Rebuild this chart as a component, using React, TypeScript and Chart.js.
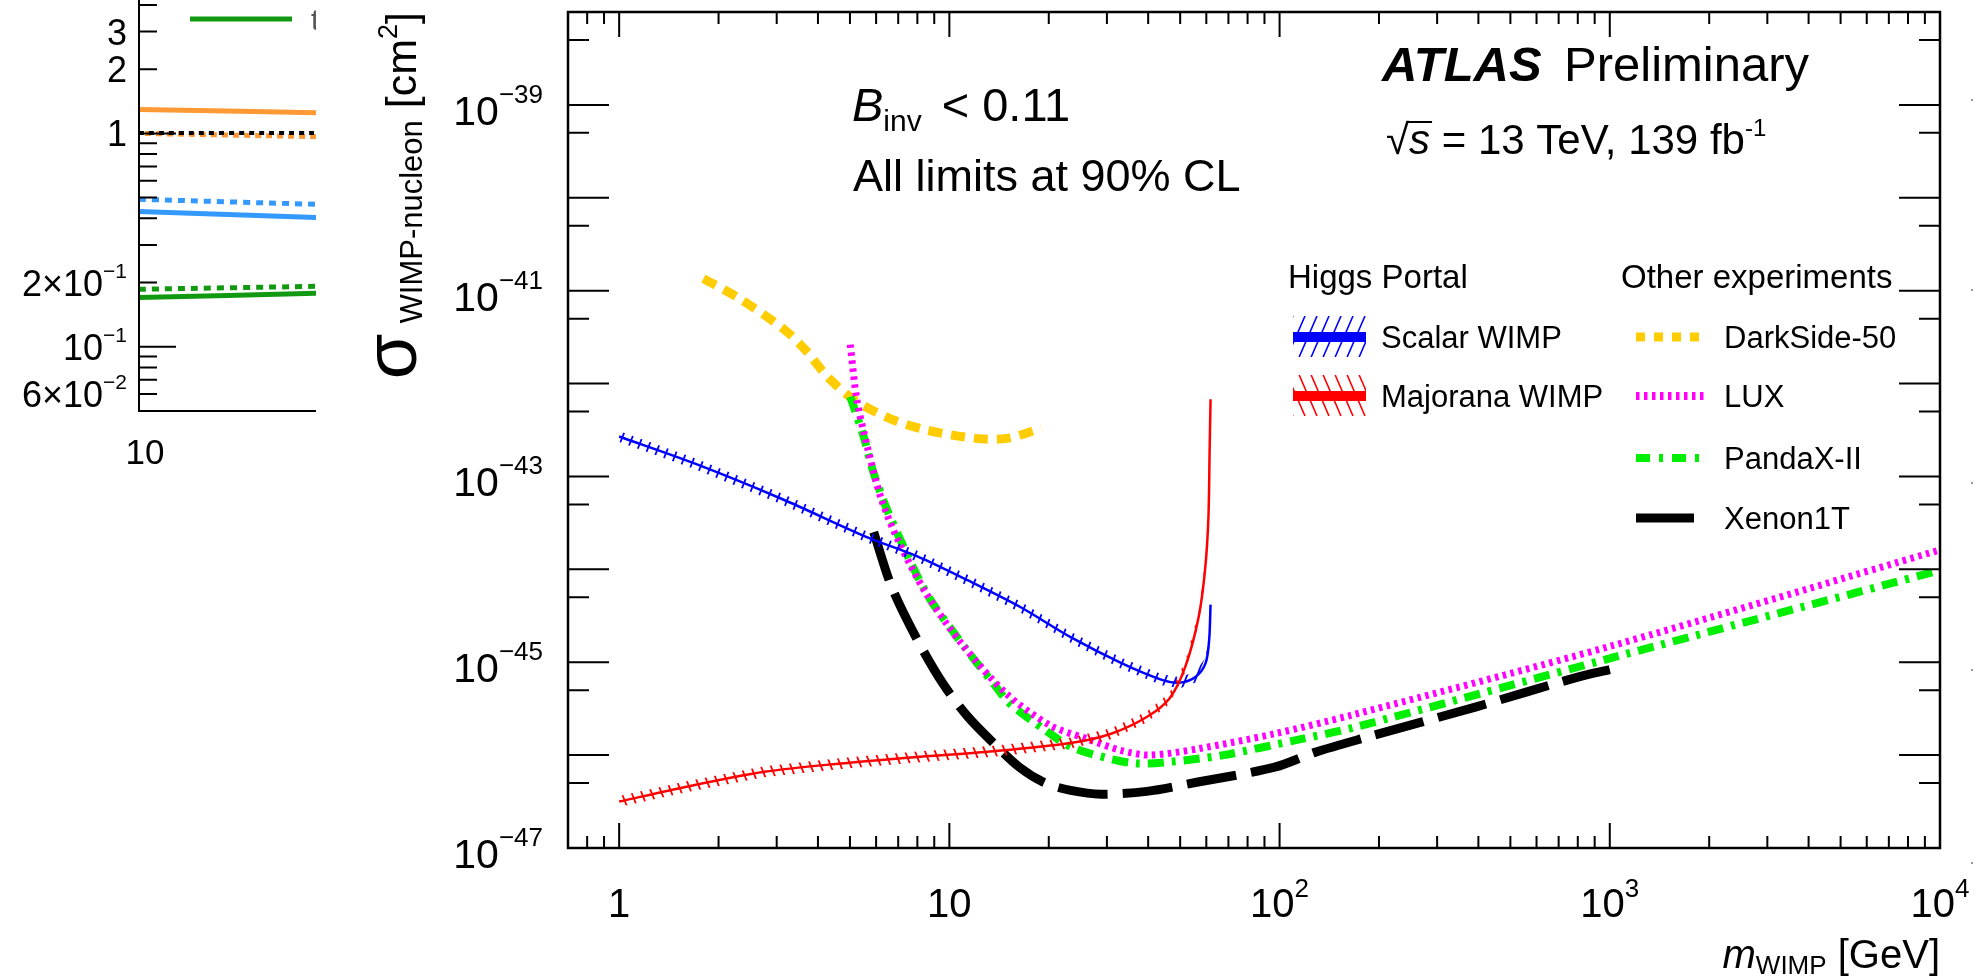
import React, { useEffect, useRef } from "react";
import { Chart, registerables } from "chart.js";

Chart.register(...registerables);

const FONT = "'Liberation Sans', Arial, Helvetica, sans-serif";
const f = (size: number, style = "") => `${style} ${size}px ${FONT}`.trim();

// ---------------- main panel data ----------------
const X_MIN = 0.7;
const X_MAX = 1e4;
const Y_MIN = 1e-47;
const Y_MAX = 1e-38;

const scalarMass = [1.0, 1.69, 3.1, 5.6, 8.0, 11.4, 16.3, 23.3, 33.2, 44, 50, 55.6, 59.7, 61.2, 61.8];
const scalarXsec = [2.69e-43, 1.38e-43, 5.75e-44, 2.24e-44, 1.38e-44, 7.59e-45, 3.98e-45, 1.86e-45, 9.77e-46, 6.46e-46, 6.03e-46, 6.92e-46, 9.77e-46, 1.74e-45, 4.17e-45];

const majoranaMass = [1.0, 1.6, 2.75, 4.7, 8.0, 13.6, 23.3, 30.9, 39.6, 46.4, 51.8, 56.9, 59.6, 60.9, 61.4, 61.8];
const majoranaXsec = [3.16e-47, 4.57e-47, 6.61e-47, 8.13e-47, 9.55e-47, 1.1e-46, 1.35e-46, 1.7e-46, 2.57e-46, 4.07e-46, 8.91e-46, 3.09e-45, 1.07e-44, 3.72e-44, 1.91e-43, 6.76e-43];

const darksideMass = [1.8, 2.3, 3.14, 3.67, 4.29, 5.17, 6.64, 8.51, 12.0, 14.9, 19.0];
const darksideXsec = [1.35e-41, 8.32e-42, 3.89e-42, 2.29e-42, 1.17e-42, 6.61e-43, 4.17e-43, 3.16e-43, 2.57e-43, 2.57e-43, 3.31e-43];

const luxMass = [5.01, 5.25, 5.68, 6.23, 7.06, 8.51, 10.9, 14.9, 20.2, 25.9, 33.2, 40.4, 56.6, 96.6, 165, 1000, 10000];
const luxXsec = [2.63e-42, 6.61e-43, 1.91e-43, 5.62e-44, 1.91e-44, 5.5e-45, 1.58e-45, 4.57e-46, 2.09e-46, 1.51e-46, 1.12e-46, 1.0e-46, 1.17e-46, 1.7e-46, 2.69e-46, 1.48e-45, 1.62e-44];

const pandaxMass = [5.01, 5.5, 5.86, 6.43, 7.75, 8.77, 11.3, 13.6, 15.2, 19.5, 23.3, 29.9, 36.9, 47.3, 67.6, 115, 165, 1000, 10000];
const pandaxXsec = [7.24e-43, 2.69e-43, 1.17e-43, 4.68e-44, 1.07e-44, 4.68e-45, 1.35e-45, 5.89e-46, 3.63e-46, 1.86e-46, 1.23e-46, 9.33e-47, 8.13e-47, 8.51e-47, 1.0e-46, 1.48e-46, 1.95e-46, 1.1e-45, 9.77e-45];

const xenonMass = [5.9, 6.69, 8.0, 9.56, 11.4, 13.6, 16.3, 19.5, 23.3, 28.8, 39.6, 56.6, 96.6, 128, 183, 394, 800, 1000];
const xenonXsec = [2.51e-44, 6.46e-45, 1.74e-45, 5.89e-46, 2.57e-46, 1.35e-46, 7.41e-47, 5.01e-47, 4.17e-47, 3.8e-47, 4.07e-47, 5.13e-47, 7.41e-47, 1.07e-46, 1.55e-46, 3.31e-46, 6.92e-46, 8.32e-46];

const xTickValues = [1, 10, 100, 1000, 10000];
const xTickBase = ["1", "10", "10", "10", "10"];
const xTickExp = ["", "", "2", "3", "4"];
const yTickValues = [1e-39, 1e-41, 1e-43, 1e-45, 1e-47];
const yTickExp = ["\u221239", "\u221241", "\u221243", "\u221245", "\u221247"];

// ---------------- left (cut-off) panel data ----------------
const leftMass = [10, 20];
const leftOrangeSolid = [1.295, 1.25];
const leftOrangeDotted = [1.0, 0.965];
const leftBlackDotted = [1.005, 1.005];
const leftBlueDotted = [0.491, 0.465];
const leftBlueSolid = [0.43, 0.403];
const leftGreenDotted = [0.186, 0.192];
const leftGreenSolid = [0.17, 0.178];
const leftTickValues = [3, 2, 1, 0.2, 0.1, 0.06];
const leftTickBase = ["3", "2", "1", "2\u00d710", "10", "6\u00d710"];
const leftTickExp = ["", "", "", "\u22121", "\u22121", "\u22122"];

const pts = (xs: number[], ys: number[]) => xs.map((x, i) => ({ x, y: ys[i] }));

type Part = { t: string; f: string; dy?: number; dx?: number };

function drawParts(ctx: CanvasRenderingContext2D, parts: Part[], x: number, y: number, align: string) {
  let w = 0;
  for (const p of parts) {
    ctx.font = p.f;
    w += ctx.measureText(p.t).width + (p.dx || 0);
  }
  let cx = align === "left" ? x : align === "center" ? x - w / 2 : x - w;
  ctx.textAlign = "left";
  ctx.textBaseline = "alphabetic";
  for (const p of parts) {
    ctx.font = p.f;
    cx += p.dx || 0;
    ctx.fillText(p.t, cx, y + (p.dy || 0));
    cx += ctx.measureText(p.t).width;
  }
  return w;
}

function hatchBand(ctx: CanvasRenderingContext2D, p: { x: number; y: number }[], half: number, spacing: number, dir: number, color: string, area: any) {
  if (p.length < 2) return;
  ctx.save();
  ctx.beginPath();
  ctx.rect(area.left, area.top, area.right - area.left, area.bottom - area.top);
  ctx.clip();
  ctx.beginPath();
  p.forEach((q, i) => (i ? ctx.lineTo(q.x, q.y - half) : ctx.moveTo(q.x, q.y - half)));
  for (let i = p.length - 1; i >= 0; i--) ctx.lineTo(p[i].x, p[i].y + half);
  ctx.closePath();
  ctx.clip();
  const xs = p.map((q) => q.x);
  const ys = p.map((q) => q.y);
  const x0 = Math.min(...xs) - 5;
  const x1 = Math.max(...xs) + 5;
  const y0 = Math.min(...ys) - half - 5;
  const y1 = Math.max(...ys) + half + 5;
  const k = 2.5;
  const H = y1 - y0;
  ctx.strokeStyle = color;
  ctx.lineWidth = 1.8;
  ctx.beginPath();
  const start = Math.floor((x0 - H / k) / spacing) * spacing;
  for (let s = start; s <= x1 + H / k; s += spacing) {
    if (dir > 0) {
      ctx.moveTo(s, y1);
      ctx.lineTo(s + H / k, y0);
    } else {
      ctx.moveTo(s, y0);
      ctx.lineTo(s + H / k, y1);
    }
  }
  ctx.stroke();
  ctx.restore();
}

function hatchRect(ctx: CanvasRenderingContext2D, x0: number, y0: number, w: number, h: number, dir: number, spacing: number, color: string) {
  ctx.save();
  ctx.beginPath();
  ctx.rect(x0, y0, w, h);
  ctx.clip();
  ctx.strokeStyle = color;
  ctx.lineWidth = 1.6;
  ctx.beginPath();
  const k = 2.3;
  for (let s = x0 - h / k - spacing; s <= x0 + w + spacing; s += spacing) {
    if (dir > 0) {
      ctx.moveTo(s, y0 + h);
      ctx.lineTo(s + h / k, y0);
    } else {
      ctx.moveTo(s, y0);
      ctx.lineTo(s + h / k, y0 + h);
    }
  }
  ctx.stroke();
  ctx.restore();
}

function sampleLine(ctx: CanvasRenderingContext2D, x0: number, x1: number, y: number, color: string, width: number, dash: number[]) {
  ctx.save();
  ctx.strokeStyle = color;
  ctx.lineWidth = width;
  ctx.lineCap = "butt";
  ctx.setLineDash(dash);
  ctx.beginPath();
  ctx.moveTo(x0, y);
  ctx.lineTo(x1, y);
  ctx.stroke();
  ctx.restore();
}

const mainDecor = {
  id: "mainDecor",
  afterDatasetsDraw(chart: any) {
    const { ctx, chartArea: a, scales } = chart;
    const x = scales.x;
    const y = scales.y;
    chart.data.datasets.forEach((ds: any, i: number) => {
      if (!ds.hatchDir) return;
      const meta = chart.getDatasetMeta(i);
      const p = meta.data.map((e: any) => ({ x: e.x, y: e.y }));
      hatchBand(ctx, p, 5.5, 10, ds.hatchDir, ds.borderColor, a);
    });
    ctx.save();
    ctx.strokeStyle = "#000";
    ctx.lineWidth = 2;
    ctx.beginPath();
    for (let d = -1; d <= 4; d++) {
      for (let m = 1; m <= 9; m++) {
        const v = m * Math.pow(10, d);
        if (v < X_MIN * 1.001 || v > X_MAX * 1.001) continue;
        const px = x.getPixelForValue(v);
        const L = m === 1 ? 25 : 12;
        ctx.moveTo(px, a.bottom);
        ctx.lineTo(px, a.bottom - L);
        ctx.moveTo(px, a.top);
        ctx.lineTo(px, a.top + L);
      }
    }
    for (let e = -47; e <= -38; e++) {
      for (const m of [1, 5]) {
        const v = m * Math.pow(10, e);
        if (v > Y_MAX * 1.001 || v < Y_MIN * 0.999) continue;
        const py = y.getPixelForValue(v);
        const L = m === 1 ? 41 : 21;
        ctx.moveTo(a.left, py);
        ctx.lineTo(a.left + L, py);
        ctx.moveTo(a.right, py);
        ctx.lineTo(a.right - L, py);
      }
    }
    ctx.stroke();
    ctx.lineWidth = 2.5;
    ctx.strokeRect(a.left, a.top, a.right - a.left, a.bottom - a.top);
    ctx.restore();
  },
  afterDraw(chart: any) {
    const { ctx, chartArea: a, scales } = chart;
    const x = scales.x;
    const y = scales.y;
    ctx.save();
    ctx.fillStyle = "#000";
    // x tick labels
    xTickValues.forEach((v, i) => {
      const parts: Part[] = [{ t: xTickBase[i], f: f(40) }];
      if (xTickExp[i]) parts.push({ t: xTickExp[i], f: f(26), dy: -20 });
      drawParts(ctx, parts, x.getPixelForValue(v), 917, "center");
    });
    // y tick labels
    yTickValues.forEach((v, i) => {
      const py = y.getPixelForValue(v);
      drawParts(ctx, [{ t: "10", f: f(41) }, { t: yTickExp[i], f: f(26), dy: -22 }], a.left - 25, py + 20, "right");
    });
    // axis titles
    drawParts(ctx, [{ t: "m", f: f(40, "italic") }, { t: "WIMP", f: f(26), dy: 6 }, { t: " [GeV]", f: f(40) }], a.right, 968, "right");
    ctx.save();
    ctx.translate(416, 12);
    ctx.rotate(-Math.PI / 2);
    drawParts(ctx, [
      { t: "\u03c3", f: f(74) },
      { t: "WIMP-nucleon", f: f(31), dy: 6, dx: 10 },
      { t: " [cm", f: f(43) },
      { t: "2", f: f(27), dy: -19 },
      { t: "]", f: f(43) },
    ], 0, 0, "right");
    ctx.restore();
    // labels
    drawParts(ctx, [{ t: "ATLAS", f: f(49, "italic bold") }], 1382, 81, "left");
    drawParts(ctx, [{ t: "Preliminary", f: f(49) }], 1564, 81, "left");
    ctx.font = f(42);
    const wr = ctx.measureText("\u221a").width;
    ctx.font = f(42, "italic");
    const ws = ctx.measureText("s").width;
    drawParts(ctx, [
      { t: "\u221a", f: f(42) },
      { t: "s", f: f(42, "italic") },
      { t: " = 13 TeV, 139 fb", f: f(42) },
      { t: "-1", f: f(24), dy: -18 },
    ], 1386, 154, "left");
    ctx.fillRect(1386 + wr - 2, 154 - 33, ws + 4, 2);
    drawParts(ctx, [
      { t: "B", f: f(47, "italic") },
      { t: "inv", f: f(30), dy: 10 },
      { t: "< 0.11", f: f(47), dx: 20 },
    ], 852, 121, "left");
    drawParts(ctx, [{ t: "All limits at 90% CL", f: f(45) }], 853, 191, "left");
    // legend
    drawParts(ctx, [{ t: "Higgs Portal", f: f(33) }], 1288, 288, "left");
    drawParts(ctx, [{ t: "Other experiments", f: f(33) }], 1621, 288, "left");
    hatchRect(ctx, 1293, 316, 73, 41, 1, 12, "#0000ff");
    sampleLine(ctx, 1293, 1366, 337, "#0000ff", 10, []);
    hatchRect(ctx, 1293, 375, 73, 41, -1, 12, "#ff0000");
    sampleLine(ctx, 1293, 1366, 396, "#ff0000", 10, []);
    drawParts(ctx, [{ t: "Scalar WIMP", f: f(31) }], 1381, 348, "left");
    drawParts(ctx, [{ t: "Majorana WIMP", f: f(31) }], 1381, 407, "left");
    sampleLine(ctx, 1636, 1708, 337, "#ffcc00", 9, [9, 9]);
    sampleLine(ctx, 1636, 1708, 396, "#ff00ff", 8, [3.5, 4.5]);
    sampleLine(ctx, 1636, 1708, 458, "#00ee00", 8, [14, 9, 4, 9]);
    sampleLine(ctx, 1636, 1694, 518, "#000000", 9, []);
    drawParts(ctx, [{ t: "DarkSide-50", f: f(31) }], 1724, 348, "left");
    drawParts(ctx, [{ t: "LUX", f: f(31) }], 1724, 407, "left");
    drawParts(ctx, [{ t: "PandaX-II", f: f(31) }], 1724, 469, "left");
    drawParts(ctx, [{ t: "Xenon1T", f: f(31) }], 1724, 529, "left");
    // remnants of the neighbouring panel on the right
    ctx.fillStyle = "#999";
    for (const yy of [99, 289, 482, 669, 862]) ctx.fillRect(1971, yy, 2, 2);
    ctx.restore();
  },
};

const leftDecor = {
  id: "leftDecor",
  afterDraw(chart: any) {
    const { ctx, chartArea: a, scales } = chart;
    const y = scales.y;
    ctx.save();
    ctx.strokeStyle = "#000";
    ctx.lineWidth = 2;
    ctx.beginPath();
    ctx.moveTo(a.left, a.top);
    ctx.lineTo(a.left, a.bottom);
    ctx.lineTo(a.right, a.bottom);
    for (let d = -2; d <= 0; d++) {
      for (let m = 1; m <= 9; m++) {
        const v = m * Math.pow(10, d);
        if (v <= 0.05 * 1.001 || v > 10) continue;
        const py = y.getPixelForValue(v);
        const L = m === 1 ? 37 : 18;
        ctx.moveTo(a.left, py);
        ctx.lineTo(a.left + L, py);
      }
    }
    ctx.stroke();
    ctx.fillStyle = "#000";
    leftTickValues.forEach((v, i) => {
      const py = y.getPixelForValue(v);
      const parts: Part[] = [{ t: leftTickBase[i], f: f(36) }];
      if (leftTickExp[i]) parts.push({ t: leftTickExp[i], f: f(21), dy: -18 });
      drawParts(ctx, parts, a.left - 12, py + 13, "right");
    });
    drawParts(ctx, [{ t: "10", f: f(35) }], 145, 554, "center");
    // legend entry (cut off)
    ctx.strokeStyle = "#119a11";
    ctx.lineWidth = 5;
    ctx.beginPath();
    ctx.moveTo(190, 109);
    ctx.lineTo(292, 109);
    ctx.stroke();
    ctx.fillStyle = "#555";
    drawParts(ctx, [{ t: "t", f: f(30) }], 311, 120, "left");
    ctx.restore();
  },
};

export default function App() {
  const mainRef = useRef<HTMLCanvasElement>(null);
  const leftRef = useRef<HTMLCanvasElement>(null);

  useEffect(() => {
    const line = (label: string, xs: number[], ys: number[], color: string, width: number, dash: number[], extra: any = {}) => ({
      label,
      data: pts(xs, ys),
      showLine: true,
      borderColor: color,
      backgroundColor: color,
      borderWidth: width,
      borderDash: dash,
      borderCapStyle: "butt",
      pointRadius: 0,
      fill: false,
      tension: 0.3,
      ...extra,
    });

    const main = new Chart(mainRef.current as HTMLCanvasElement, {
      type: "scatter",
      data: {
        datasets: [
          line("Majorana WIMP", majoranaMass, majoranaXsec, "#ff0000", 2.5, [], { hatchDir: -1 }),
          line("Scalar WIMP", scalarMass, scalarXsec, "#0000ff", 2.5, [], { hatchDir: 1 }),
          line("Xenon1T", xenonMass, xenonXsec, "#000000", 9, [50, 15]),
          line("LUX", luxMass, luxXsec, "#ff00ff", 7, [3.5, 4.5]),
          line("PandaX-II", pandaxMass, pandaxXsec, "#00ee00", 8, [16, 8, 4, 8]),
          line("DarkSide-50", darksideMass, darksideXsec, "#ffcc00", 9, [14, 9]),
        ] as any,
      },
      options: {
        animation: false,
        responsive: false,
        devicePixelRatio: 1,
        layout: { padding: { left: 568, right: 48, top: 12, bottom: 130 } },
        plugins: { legend: { display: false }, tooltip: { enabled: false } },
        scales: {
          x: { type: "logarithmic", min: X_MIN, max: X_MAX, display: false },
          y: { type: "logarithmic", min: Y_MIN, max: Y_MAX, display: false },
        },
      } as any,
      plugins: [mainDecor],
    });

    const left = new Chart(leftRef.current as HTMLCanvasElement, {
      type: "scatter",
      data: {
        datasets: [
          line("black dotted", leftMass, leftBlackDotted, "#000000", 4, [5, 5]),
          line("orange dotted", leftMass, leftOrangeDotted, "#ff9933", 5, [6, 5], { borderDashOffset: 5 }),
          line("orange solid", leftMass, leftOrangeSolid, "#ff9933", 5, []),
          line("blue dotted", leftMass, leftBlueDotted, "#3399ff", 5, [7, 6]),
          line("blue solid", leftMass, leftBlueSolid, "#3399ff", 5, []),
          line("green dotted", leftMass, leftGreenDotted, "#119a11", 5, [7, 6]),
          line("green solid", leftMass, leftGreenSolid, "#119a11", 5, []),
        ] as any,
      },
      options: {
        animation: false,
        responsive: false,
        devicePixelRatio: 1,
        layout: { padding: { left: 139, right: 0, top: 10, bottom: 59 } },
        plugins: { legend: { display: false }, tooltip: { enabled: false } },
        scales: {
          x: { type: "linear", min: 10, max: 20, display: false },
          y: { type: "logarithmic", min: 0.05, max: 10, display: false },
        },
      } as any,
      plugins: [leftDecor],
    });

    return () => {
      main.destroy();
      left.destroy();
    };
  }, []);

  return (
    <div style={{ position: "absolute", left: 0, top: 0, width: 1988, height: 978, background: "#fff", overflow: "hidden" }}>
      <canvas ref={mainRef} width={1988} height={978} style={{ position: "absolute", left: 0, top: 0, width: 1988, height: 978 }} />
      <div style={{ position: "absolute", left: 0, top: 0, width: 316, height: 480, overflow: "hidden" }}>
        <canvas ref={leftRef} width={316} height={560} style={{ position: "absolute", left: 0, top: -90, width: 316, height: 560 }} />
      </div>
    </div>
  );
}
